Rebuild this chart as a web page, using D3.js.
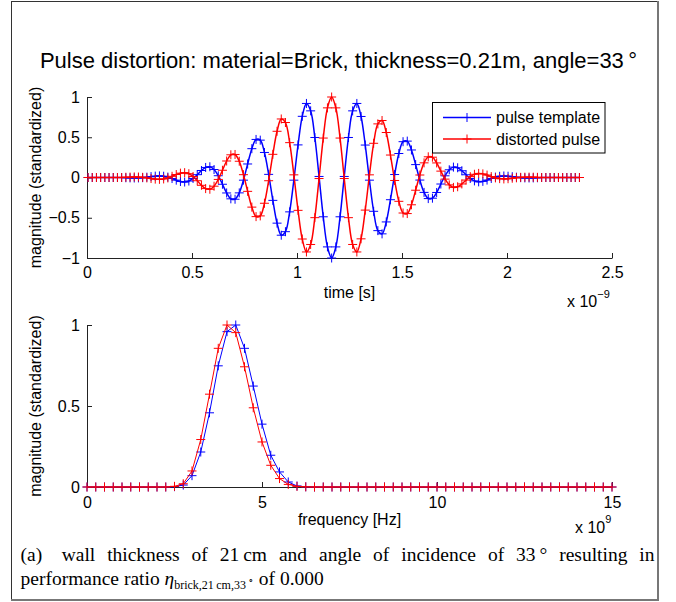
<!DOCTYPE html>
<html><head><meta charset="utf-8">
<script src="https://cdn.jsdelivr.net/npm/d3@7"></script>
<style>
html,body{margin:0;padding:0;background:#fff;}
svg{display:block;}
</style></head><body>
<svg id="chart" width="676" height="602"></svg>
<script>
// ---------- data ----------
const timeNs = [
0.005,0.025,0.045,0.065,0.085,0.105,0.125,0.145,0.165,0.185,
0.205,0.225,0.245,0.265,0.285,0.305,0.325,0.345,0.365,0.385,
0.405,0.425,0.445,0.465,0.485,0.505,0.525,0.545,0.565,0.585,
0.605,0.625,0.645,0.665,0.685,0.705,0.725,0.745,0.765,0.785,
0.805,0.825,0.845,0.865,0.885,0.905,0.925,0.945,0.965,0.985,
1.005,1.025,1.045,1.065,1.085,1.105,1.125,1.145,1.165,1.185,
1.205,1.225,1.245,1.265,1.285,1.305,1.325,1.345,1.365,1.385,
1.405,1.425,1.445,1.465,1.485,1.505,1.525,1.545,1.565,1.585,
1.605,1.625,1.645,1.665,1.685,1.705,1.725,1.745,1.765,1.785,
1.805,1.825,1.845,1.865,1.885,1.905,1.925,1.945,1.965,1.985,
2.005,2.025,2.045,2.065,2.085,2.105,2.125,2.145,2.165,2.185,
2.205,2.225,2.245,2.265,2.285,2.305,2.325,2.345];
const templatePulse = [
0,0,0,0,0,0,0,0,0,-0.003,
-0.005,-0.006,-0.005,-0.002,0.004,0.011,0.017,0.020,0.016,0.005,
-0.013,-0.033,-0.050,-0.056,-0.044,-0.012,0.035,0.087,0.125,0.133,
0.099,0.022,-0.084,-0.192,-0.265,-0.270,-0.191,-0.033,0.168,0.358,
0.473,0.464,0.311,0.039,-0.284,-0.567,-0.717,-0.673,-0.427,-0.033,
0.405,0.760,0.920,0.828,0.497,0.013,-0.488,-0.862,-1.000,-0.862,
-0.488,0.013,0.497,0.828,0.920,0.758,0.403,-0.033,-0.420,-0.660,
-0.700,-0.552,-0.276,0.037,0.298,0.445,0.452,0.342,0.160,-0.032,
-0.185,-0.262,-0.257,-0.186,-0.081,0.021,0.096,0.129,0.121,0.084,
0.034,-0.012,-0.042,-0.054,-0.048,-0.032,-0.012,0.005,0.015,0.019,
0.016,0.010,0.004,-0.002,-0.005,-0.006,-0.005,-0.003,0,0,
0,0,0,0,0,0,0,0];
const distortedPulse = [
0,0,0,0,0,0,0,0,0,0.003,
0.005,0.007,0.006,0.002,-0.005,-0.013,-0.020,-0.023,-0.018,-0.005,
0.015,0.037,0.054,0.060,0.047,0.012,-0.040,-0.097,-0.138,-0.146,
-0.108,-0.024,0.090,0.205,0.282,0.286,0.202,0.035,-0.172,-0.368,
-0.486,-0.477,-0.320,-0.040,0.288,0.574,0.727,0.683,0.433,0.033,
-0.408,-0.764,-0.925,-0.832,-0.499,-0.013,0.490,0.865,1.000,0.865,
0.490,-0.013,-0.499,-0.832,-0.925,-0.762,-0.405,0.033,0.425,0.666,
0.708,0.559,0.279,-0.037,-0.296,-0.441,-0.448,-0.339,-0.158,0.031,
0.182,0.257,0.252,0.181,0.079,-0.020,-0.092,-0.123,-0.115,-0.080,
-0.032,0.011,0.040,0.051,0.045,0.030,0.011,-0.005,-0.014,-0.018,
-0.015,-0.009,-0.004,0.002,0.004,0.005,0.004,0.002,0,0,
0,0,0,0,0,0,0,0];

const freqGHz = [
0,0.25,0.5,0.75,1,1.25,1.5,1.75,2,2.25,
2.5,2.75,3,3.25,3.5,3.75,4,4.25,4.5,4.75,
5,5.25,5.5,5.75,6,6.25,6.5,6.75,7,7.25,
7.5,7.75,8,8.25,8.5,8.75,9,9.25,9.5,9.75,
10,10.25,10.5,10.75,11,11.25,11.5,11.75,12,12.25,
12.5,12.75,13,13.25,13.5,13.75,14,14.25,14.5,14.75,15];
const templateSpectrum = [
0,0,0,0,0,0,0,0,0,0,
0.002,0.012,0.070,0.216,0.458,0.748,0.959,1.000,0.856,0.623,
0.388,0.196,0.093,0.031,0.006,0.001,0,0,0,0,
0,0,0,0,0,0,0,0,0,0,
0,0,0,0,0,0,0,0,0,0,
0,0,0,0,0,0,0,0,0,0,0];
const distortedSpectrum = [
0,0,0,0,0,0,0,0,0,0,
0.004,0.020,0.099,0.293,0.573,0.856,1.000,0.953,0.742,0.489,
0.278,0.134,0.052,0.016,0.004,0.001,0,0,0,0,
0,0,0,0,0,0,0,0,0,0,
0,0,0,0,0,0,0,0,0,0,
0,0,0,0,0,0,0,0,0,0,0];

const timeTicks = [0,0.5,1,1.5,2,2.5];
const magTicksTop = [-1,-0.5,0,0.5,1];
const freqTicks = [0,5,10,15];
const magTicksBottom = [0,0.5,1];
const seriesNames = ["pulse template","distorted pulse"];
const seriesColors = ["#0000ff","#ff0000"];

// ---------- drawing ----------
const svg = d3.select("#chart");
const FS = 16;
const SANS = '"Liberation Sans",Arial,sans-serif';
const SERIF = '"Liberation Serif","Times New Roman",serif';

// outer frame
svg.append("rect").attr("x",11.5).attr("y",1.5).attr("width",646).attr("height",598)
  .attr("fill","none").attr("stroke","#333").attr("stroke-width",1);
svg.append("line").attr("x1",658).attr("x2",658).attr("y1",1).attr("y2",601).attr("stroke","#777").attr("stroke-width",2);
svg.append("line").attr("x1",11).attr("x2",659).attr("y1",600).attr("y2",600).attr("stroke","#777").attr("stroke-width",2);

function label(x, y, size, anchor) {
  return svg.append("text").attr("x",x).attr("y",y).attr("text-anchor",anchor||"start")
    .style("font-family",SANS).style("font-size",size+"px").attr("fill","#000");
}

label(338.5, 68, 22, "middle").text("Pulse distortion: material=Brick, thickness=0.21m, angle=33\u2009°");

const x1 = d3.scaleLinear().domain([0,2.5]).range([87,612]);
const y1 = d3.scaleLinear().domain([-1,1]).range([258,97]);
const x2 = d3.scaleLinear().domain([0,15]).range([87,612]);
const y2 = d3.scaleLinear().domain([0,1]).range([487,325]);

function axes(x, y, xt, yt, padX) {
  const gx = svg.append("g").attr("transform",`translate(0,${y.range()[0]})`)
    .call(d3.axisBottom(x).tickValues(xt).tickSizeInner(-5).tickSizeOuter(0).tickPadding(padX).tickFormat(d3.format("~g")));
  const gy = svg.append("g").attr("transform",`translate(${x.range()[0]},0)`)
    .call(d3.axisLeft(y).tickValues(yt).tickSizeInner(-5).tickSizeOuter(0).tickPadding(7).tickFormat(d3.format("~g")));
  [gx,gy].forEach(g=>{
    g.attr("font-size",null).attr("font-family",null);
    g.selectAll("path.domain,line").attr("stroke","#222").attr("stroke-width",1);
    g.selectAll("text").attr("fill","#000").style("font-family",SANS).style("font-size",FS+"px");
  });
}

function series(xs, ys, x, y, color, curve, sw) {
  const pts = xs.map((d,i)=>[x(d), y(ys[i])]);
  const g = svg.append("g");
  g.append("path").attr("d", d3.line().curve(curve)(pts)).attr("fill","none")
    .attr("stroke",color).attr("stroke-width",sw);
  g.selectAll(null).data(pts).join("path")
    .attr("d", p=>`M${p[0]-4.5},${p[1]}h9M${p[0]},${p[1]-4.5}v9`)
    .attr("stroke",color).attr("stroke-width",1).attr("fill","none");
}

// top plot
axes(x1, y1, timeTicks, magTicksTop, 9);
series(timeNs, templatePulse, x1, y1, seriesColors[0], d3.curveCatmullRom, 1.5);
series(timeNs, distortedPulse, x1, y1, seriesColors[1], d3.curveCatmullRom, 1.5);

svg.append("text").attr("transform","translate(41,177.5) rotate(-90)").attr("text-anchor","middle")
  .style("font-family",SANS).style("font-size",FS+"px").text("magnitude (standardized)");
label(349.5, 298, FS, "middle").text("time [s]");
const e1 = label(567, 307, FS);
e1.append("tspan").text("x 10");
e1.append("tspan").style("font-size","11px").attr("dy",-9).text("\u22129");

// legend
const lg = svg.append("g");
lg.append("rect").attr("x",432.5).attr("y",102.5).attr("width",172.5).attr("height",50.5)
  .attr("fill","#fff").attr("stroke","#000").attr("stroke-width",1);
seriesNames.forEach((name,i)=>{
  const cy = 117.5 + i*21.5;
  lg.append("line").attr("x1",443).attr("x2",491).attr("y1",cy).attr("y2",cy)
    .attr("stroke",seriesColors[i]).attr("stroke-width",1.4);
  lg.append("path").attr("d",`M${462.5},${cy}h9M${467},${cy-4.5}v9`).attr("stroke",seriesColors[i]);
  label(496, cy, FS).attr("dy","0.35em").text(name);
});

// bottom plot
axes(x2, y2, freqTicks, magTicksBottom, 10);
series(freqGHz, templateSpectrum, x2, y2, seriesColors[0], d3.curveLinear, 1);
series(freqGHz, distortedSpectrum, x2, y2, seriesColors[1], d3.curveLinear, 1);

svg.append("text").attr("transform","translate(41,406) rotate(-90)").attr("text-anchor","middle")
  .style("font-family",SANS).style("font-size",FS+"px").text("magnitude (standardized)");
label(349.5, 525, FS, "middle").text("frequency [Hz]");
const e2 = label(575, 533, FS);
e2.append("tspan").text("x 10");
e2.append("tspan").style("font-size","11px").attr("dy",-10).text("9");

// caption (line 1 justified through word spacing)
const capFS = 19.5;
const line1 = "(a)\u2003wall thickness of 21\u2009cm and angle of incidence of 33\u2009° resulting in";
const c1 = svg.append("text").attr("x",20.5).attr("y",561).style("font-family",SERIF)
  .style("font-size",capFS+"px").attr("fill","#000").text(line1);
const natural = c1.node().getComputedTextLength();
const nSpaces = (line1.match(/ /g) || []).length;
c1.style("word-spacing", ((634 - natural) / nSpaces) + "px");

const c2 = svg.append("text").attr("x",20.5).attr("y",585).style("font-family",SERIF)
  .style("font-size",capFS+"px").attr("fill","#000");
c2.append("tspan").text("performance ratio ");
c2.append("tspan").style("font-style","italic").text("η");
c2.append("tspan").style("font-size","12px").attr("dy",3.5).text("brick,21\u2009cm,33");
c2.append("tspan").style("font-size","9px").attr("dy",-5).attr("dx",2).text("∘");
c2.append("tspan").attr("dy",1.5).text(" of 0.000");
</script>
</body></html>
